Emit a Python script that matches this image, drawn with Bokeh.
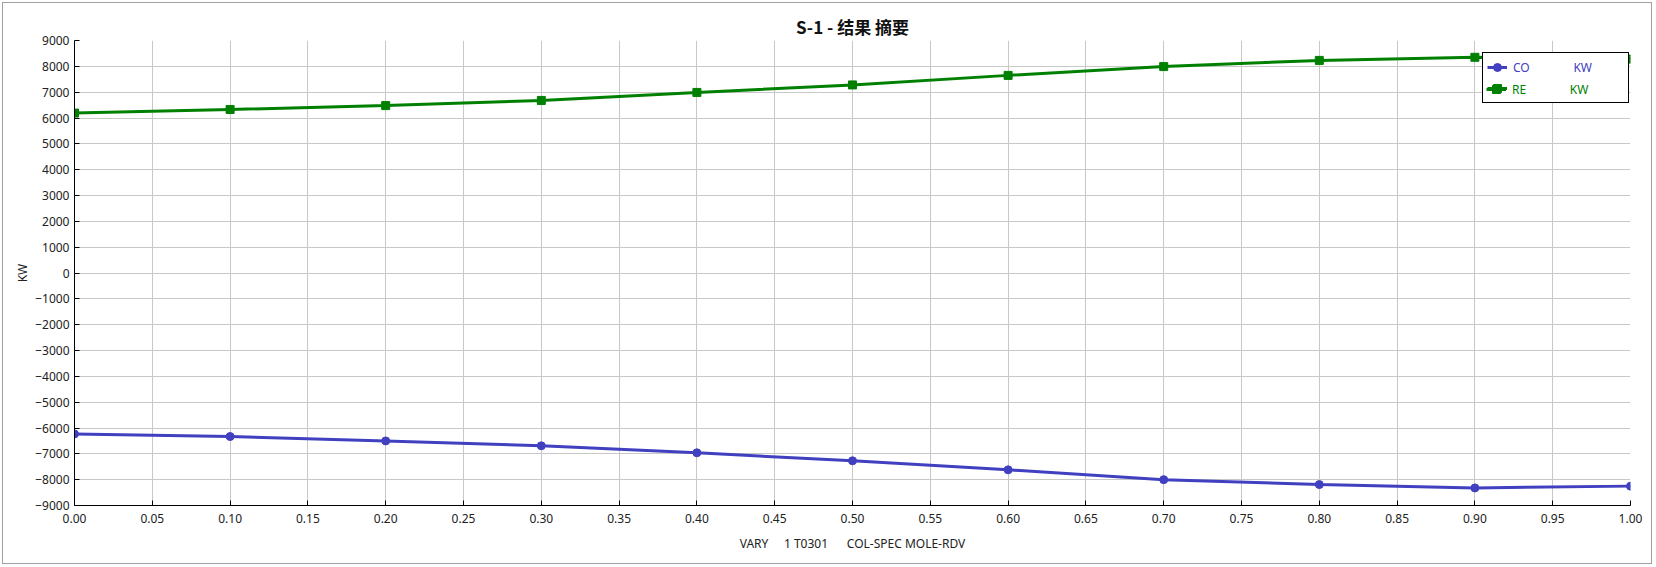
from bokeh.plotting import figure
from bokeh.models import Range1d, FixedTicker, PrintfTickFormatter, Legend, LegendItem
from bokeh.embed import file_html
from bokeh.resources import INLINE

# ---- data ----
x_vals = [0.0, 0.1, 0.2, 0.3, 0.4, 0.5, 0.6, 0.7, 0.8, 0.9, 1.0]
co_kw = [-6230, -6330, -6500, -6690, -6960, -7270, -7620, -8000, -8190, -8320, -8250]
re_kw = [6190, 6330, 6480, 6680, 6990, 7280, 7650, 7990, 8230, 8350, 8280]
x_ticks = [round(i * 0.05, 2) for i in range(21)]
y_ticks = list(range(-9000, 9001, 1000))
title_text = "S-1 - 结果 摘要"
x_label = "VARY" + "\u00a0" * 5 + "1 T0301" + "\u00a0" * 6 + "COL-SPEC MOLE-RDV"
y_label = "KW"
co_label = "CO" + "\u00a0" * 14 + "KW"
re_label = "RE" + "\u00a0" * 14 + "KW"

BLUE = "#4040c0"
GREEN = "#008000"
FONT = "Noto Sans"

p = figure(width=1650, height=562, output_backend="svg", toolbar_location=None,
           x_range=Range1d(0, 1), y_range=Range1d(-9000, 9000),
           min_border_left=71, min_border_right=23, min_border_top=37, min_border_bottom=60)
p.styles = {"border": "1px solid #a0a0a0", "margin": "2px 0 0 2px"}
p.outline_line_color = None
p.background_fill_color = "white"
p.border_fill_color = "white"

p.title.text = title_text
p.title.align = "center"
p.title.text_font = "Noto Sans CJK SC"
p.title.text_font_size = "17px"
p.title.text_font_style = "bold"
p.title.text_color = "#111111"
p.title.standoff = 4

for ax in (p.xaxis[0], p.yaxis[0]):
    ax.axis_line_color = "black"
    ax.axis_line_width = 1
    ax.major_tick_line_color = "black"
    ax.major_tick_in = 5
    ax.major_tick_out = 0
    ax.minor_tick_line_color = None
    ax.major_label_text_font = FONT
    ax.major_label_text_font_size = "12px"
    ax.major_label_text_color = "#222222"
    ax.axis_label_text_font = FONT
    ax.axis_label_text_font_size = "12px"
    ax.axis_label_text_font_style = "normal"
    ax.axis_label_text_color = "#222222"

p.xaxis[0].ticker = FixedTicker(ticks=x_ticks)
p.xaxis[0].formatter = PrintfTickFormatter(format="%.2f")
p.xaxis[0].axis_label = x_label
p.xaxis[0].major_label_standoff = 8
p.xaxis[0].axis_label_standoff = 9

p.yaxis[0].ticker = FixedTicker(ticks=y_ticks)
p.yaxis[0].axis_label = y_label
p.yaxis[0].major_label_standoff = 5
p.yaxis[0].axis_label_standoff = 1

p.grid.grid_line_color = "#c8c8c8"
p.grid.grid_line_width = 1

co_line = p.line(x_vals, co_kw, line_color=BLUE, line_width=3)
co_pts = p.scatter(x_vals, co_kw, marker="circle", size=8, fill_color=BLUE, line_color=BLUE)
re_line = p.line(x_vals, re_kw, line_color=GREEN, line_width=3)
re_pts = p.scatter(x_vals, re_kw, marker="square", size=8, fill_color=GREEN, line_color=GREEN)

common = dict(padding=4, spacing=1, margin=0, glyph_width=20, glyph_height=20,
              label_height=20, label_standoff=6, label_width=111,
              label_text_font=FONT, label_text_font_size="12px",
              border_line_color="black", border_line_width=1)

leg1 = Legend(items=[LegendItem(label=co_label, renderers=[co_line, co_pts]),
                     LegendItem(label="\u00a0", renderers=[re_line, re_pts])],
              location=(1408, 402), border_line_alpha=1.0,
              background_fill_color="white", background_fill_alpha=1.0,
              label_text_color=BLUE, **common)
leg2 = Legend(items=[LegendItem(label=re_label, renderers=[re_line, re_pts])],
              location=(1408, 402), border_line_alpha=0.0,
              background_fill_alpha=0.0, label_text_color=GREEN, **common)
p.add_layout(leg1, "center")
p.add_layout(leg2, "center")

open("out.html", "w").write(file_html(p, INLINE))
